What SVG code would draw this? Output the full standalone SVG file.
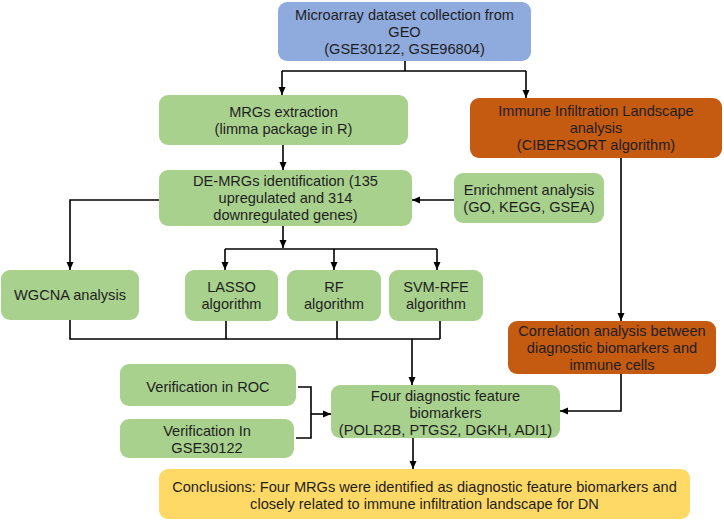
<svg xmlns="http://www.w3.org/2000/svg" width="724" height="520" viewBox="0 0 724 520">
<defs>
<style>
.t{font-family:"Liberation Sans",Arial,sans-serif;font-size:14.6px;fill:#1e1e1e;text-anchor:middle}
.blue{fill:#8FAADC}
.green{fill:#A9D18E}
.orange{fill:#C55A11}
.yellow{fill:#FFD966}
.ln{fill:none;stroke:#000;stroke-width:1.6}
.ar{fill:none;stroke:#000;stroke-width:1.6;marker-end:url(#ah)}
</style>
<marker id="ah" markerUnits="userSpaceOnUse" markerWidth="9" markerHeight="8" refX="8" refY="4" orient="auto">
<path d="M0,0.5 L8,4 L0,7.5 z" fill="#000"/>
</marker>
</defs>
<rect width="724" height="520" fill="#fff"/>
<g id="connectors">
<path class="ln" d="M405,61 V71 M282,71 H526"/>
<path class="ar" d="M282,71 V95"/>
<path class="ar" d="M526,71 V98"/>
<path class="ar" d="M283,145 V170"/>
<path class="ar" d="M621,158 V321"/>
<path class="ar" d="M454,200 H412"/>
<path class="ar" d="M159,200 H70 V270"/>
<path class="ar" d="M283,226 V248"/>
<path class="ln" d="M225,249 H437"/>
<path class="ar" d="M225,249 V270"/>
<path class="ar" d="M334,249 V270"/>
<path class="ar" d="M437,249 V270"/>
<path class="ln" d="M70,320 V339 H440 M226,321 V339 M337,321 V339 M440,321 V339"/>
<path class="ar" d="M412,339 V385"/>
<path class="ln" d="M298,387 H311 V438 H296"/>
<path class="ar" d="M311,414 H331"/>
<path class="ar" d="M621,374 V411 H560"/>
<path class="ar" d="M413,438 V469"/>
</g>
<g id="geo">
<rect class="blue" x="278" y="2" width="253" height="59" rx="9"/>
<text class="t" x="404.5" y="20">Microarray dataset collection from</text>
<text class="t" x="404.5" y="37">GEO</text>
<text class="t" x="404.5" y="54">(GSE30122, GSE96804)</text>
</g>
<g id="mrgs">
<rect class="green" x="159" y="95" width="249" height="50" rx="9"/>
<text class="t" x="283.5" y="117">MRGs extraction</text>
<text class="t" x="283.5" y="134">(limma package in R)</text>
</g>
<g id="immune">
<rect class="orange" x="470" y="98" width="252" height="60" rx="9"/>
<text class="t" x="596" y="116">Immune Infiltration Landscape</text>
<text class="t" x="596" y="133">analysis</text>
<text class="t" x="596" y="150">(CIBERSORT algorithm)</text>
</g>
<g id="demrgs">
<rect class="green" x="159" y="170" width="253" height="56" rx="9"/>
<text class="t" x="285.5" y="186">DE-MRGs identification (135</text>
<text class="t" x="285.5" y="203">upregulated and 314</text>
<text class="t" x="285.5" y="220">downregulated genes)</text>
</g>
<g id="enrichment">
<rect class="green" x="454" y="173" width="150" height="50" rx="9"/>
<text class="t" x="529" y="195">Enrichment analysis</text>
<text class="t" x="529" y="212">(GO, KEGG, GSEA)</text>
</g>
<g id="wgcna">
<rect class="green" x="1" y="270" width="138" height="50" rx="9"/>
<text class="t" x="70" y="300">WGCNA analysis</text>
</g>
<g id="lasso">
<rect class="green" x="185" y="270" width="93" height="51" rx="9"/>
<text class="t" x="231.5" y="292">LASSO</text>
<text class="t" x="231.5" y="309">algorithm</text>
</g>
<g id="rf">
<rect class="green" x="287" y="270" width="94" height="51" rx="9"/>
<text class="t" x="334" y="292">RF</text>
<text class="t" x="334" y="309">algorithm</text>
</g>
<g id="svmrfe">
<rect class="green" x="389" y="270" width="94" height="51" rx="9"/>
<text class="t" x="436" y="292">SVM-RFE</text>
<text class="t" x="436" y="309">algorithm</text>
</g>
<g id="correlation">
<rect class="orange" x="508" y="321" width="208" height="53" rx="9"/>
<text class="t" x="612" y="336">Correlation analysis between</text>
<text class="t" x="612" y="353">diagnostic biomarkers and</text>
<text class="t" x="612" y="370">immune cells</text>
</g>
<g id="roc">
<rect class="green" x="120" y="364" width="176" height="42" rx="9"/>
<text class="t" x="208" y="392">Verification in ROC</text>
</g>
<g id="gse">
<rect class="green" x="120" y="419" width="174" height="39" rx="9"/>
<text class="t" x="207" y="436">Verification In</text>
<text class="t" x="207" y="453">GSE30122</text>
</g>
<g id="four">
<rect class="green" x="331" y="385" width="229" height="53" rx="9"/>
<text class="t" x="445.5" y="401">Four diagnostic feature</text>
<text class="t" x="445.5" y="418">biomarkers</text>
<text class="t" x="445.5" y="435">(POLR2B, PTGS2, DGKH, ADI1)</text>
</g>
<g id="conclusion">
<rect class="yellow" x="159" y="469" width="531" height="50" rx="9"/>
<text class="t" x="424.5" y="492">Conclusions: Four MRGs were identified as diagnostic feature biomarkers and</text>
<text class="t" x="424.5" y="509">closely related to immune infiltration landscape for DN</text>
</g>
</svg>
